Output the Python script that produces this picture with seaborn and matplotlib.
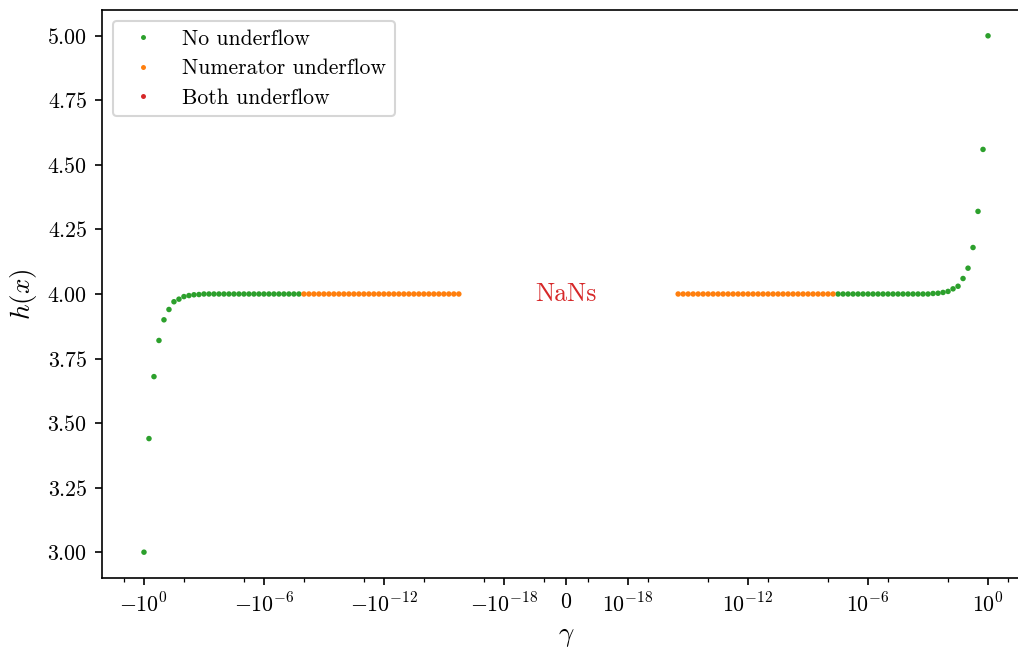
import numpy as np
import pandas as pd
import matplotlib
matplotlib.use("Agg")
import matplotlib.pyplot as plt
import matplotlib.ticker as mticker
import seaborn as sns

plt.rcParams["font.family"] = "serif"
plt.rcParams["font.serif"] = ["cmr10"]
plt.rcParams["mathtext.fontset"] = "cm"
plt.rcParams["axes.formatter.use_mathtext"] = True
plt.rcParams["axes.unicode_minus"] = False

# ---- data ----
# exponents e of |gamma| = 10**e
left_green_exp = [0.0, -0.25, -0.5, -0.75, -1.0, -1.25, -1.5, -1.75, -2.0, -2.25, -2.5, -2.75,
                  -3.0, -3.25, -3.5, -3.75, -4.0, -4.25, -4.5, -4.75, -5.0, -5.25, -5.5, -5.75,
                  -6.0, -6.25, -6.5, -6.75, -7.0, -7.25, -7.5, -7.75]
left_green_h = [3.00, 3.44, 3.68, 3.82, 3.90, 3.94, 3.97, 3.98, 3.99, 3.994, 3.997, 3.998,
                4.00, 4.00, 4.00, 4.00, 4.00, 4.00, 4.00, 4.00, 4.00, 4.00, 4.00, 4.00,
                4.00, 4.00, 4.00, 4.00, 4.00, 4.00, 4.00, 4.00]
left_orange_exp = [-8.0, -8.25, -8.5, -8.75, -9.0, -9.25, -9.5, -9.75, -10.0, -10.25, -10.5, -10.75,
                   -11.0, -11.25, -11.5, -11.75, -12.0, -12.25, -12.5, -12.75, -13.0, -13.25, -13.5, -13.75,
                   -14.0, -14.25, -14.5, -14.75, -15.0, -15.25, -15.5, -15.75]
left_orange_h = [4.00] * 32
right_orange_exp = [-7.75, -8.0, -8.25, -8.5, -8.75, -9.0, -9.25, -9.5, -9.75, -10.0, -10.25, -10.5,
                    -10.75, -11.0, -11.25, -11.5, -11.75, -12.0, -12.25, -12.5, -12.75, -13.0, -13.25, -13.5,
                    -13.75, -14.0, -14.25, -14.5, -14.75, -15.0, -15.25, -15.5]
right_orange_h = [4.00] * 32
right_green_exp = [0.0, -0.25, -0.5, -0.75, -1.0, -1.25, -1.5, -1.75, -2.0, -2.25, -2.5, -2.75,
                   -3.0, -3.25, -3.5, -3.75, -4.0, -4.25, -4.5, -4.75, -5.0, -5.25, -5.5, -5.75,
                   -6.0, -6.25, -6.5, -6.75, -7.0, -7.25, -7.5]
right_green_h = [5.00, 4.56, 4.32, 4.18, 4.10, 4.06, 4.03, 4.02, 4.01, 4.006, 4.003, 4.002,
                 4.00, 4.00, 4.00, 4.00, 4.00, 4.00, 4.00, 4.00, 4.00, 4.00, 4.00, 4.00,
                 4.00, 4.00, 4.00, 4.00, 4.00, 4.00, 4.00]
# "Both underflow" points give NaN (not drawn)
both_exp = [-16.0, -17.0, -18.0, -19.0, -20.0]

categories = ["No underflow", "Numerator underflow", "Both underflow"]
colors = ["#2ca02c", "#ff7f0e", "#d62728"]

major_ticks = [-1, -1e-6, -1e-12, -1e-18, 0, 1e-18, 1e-12, 1e-6, 1]
minor_exps = [1, -2, -5, -8, -11, -14, -17, -20]

rows = []
for e, h in zip(left_green_exp, left_green_h):
    rows.append((-10.0 ** e, h, categories[0]))
for e, h in zip(right_green_exp, right_green_h):
    rows.append((10.0 ** e, h, categories[0]))
for e, h in zip(left_orange_exp, left_orange_h):
    rows.append((-10.0 ** e, h, categories[1]))
for e, h in zip(right_orange_exp, right_orange_h):
    rows.append((10.0 ** e, h, categories[1]))
for e in both_exp:
    rows.append((-10.0 ** e, np.nan, categories[2]))
    rows.append((10.0 ** e, np.nan, categories[2]))
df = pd.DataFrame(rows, columns=["gamma", "h", "status"])

fig = plt.figure(figsize=(1018 / 150, 652 / 150), dpi=150)
ax = fig.add_axes([102 / 1018, 1 - 578 / 652, 928 / 1018, 568 / 652])

ax.set_xscale("symlog", linthresh=1e-20)
sns.scatterplot(data=df, x="gamma", y="h", hue="status", hue_order=categories,
                palette=dict(zip(categories, colors)), s=7, linewidth=0, ax=ax)

ax.set_xlim(-10 ** 2.1, 10 ** 2.1)
ax.set_ylim(2.9, 5.1)
ax.xaxis.set_major_locator(mticker.FixedLocator(major_ticks))
minor = [-10.0 ** e for e in minor_exps] + [10.0 ** e for e in minor_exps]
ax.xaxis.set_minor_locator(mticker.FixedLocator(minor))
ax.xaxis.set_minor_formatter(mticker.NullFormatter())
ax.yaxis.set_major_locator(mticker.MultipleLocator(0.25))
ax.yaxis.set_major_formatter(mticker.FormatStrFormatter("$%.2f$"))
ax.tick_params(labelsize=10.5)

ax.set_xlabel(r"$\gamma$", fontsize=13)
ax.set_ylabel(r"$h(x)$", fontsize=13)

ax.text(0, 4.0, "NaNs", color="#d62728", fontsize=12.3, ha="center", va="center")

leg = ax.legend(loc="upper left", fontsize=10.4, markerscale=0.9, handletextpad=0.8,
                labelspacing=0.45)
leg.set_title(None)

fig.savefig("out.png", dpi=150)
